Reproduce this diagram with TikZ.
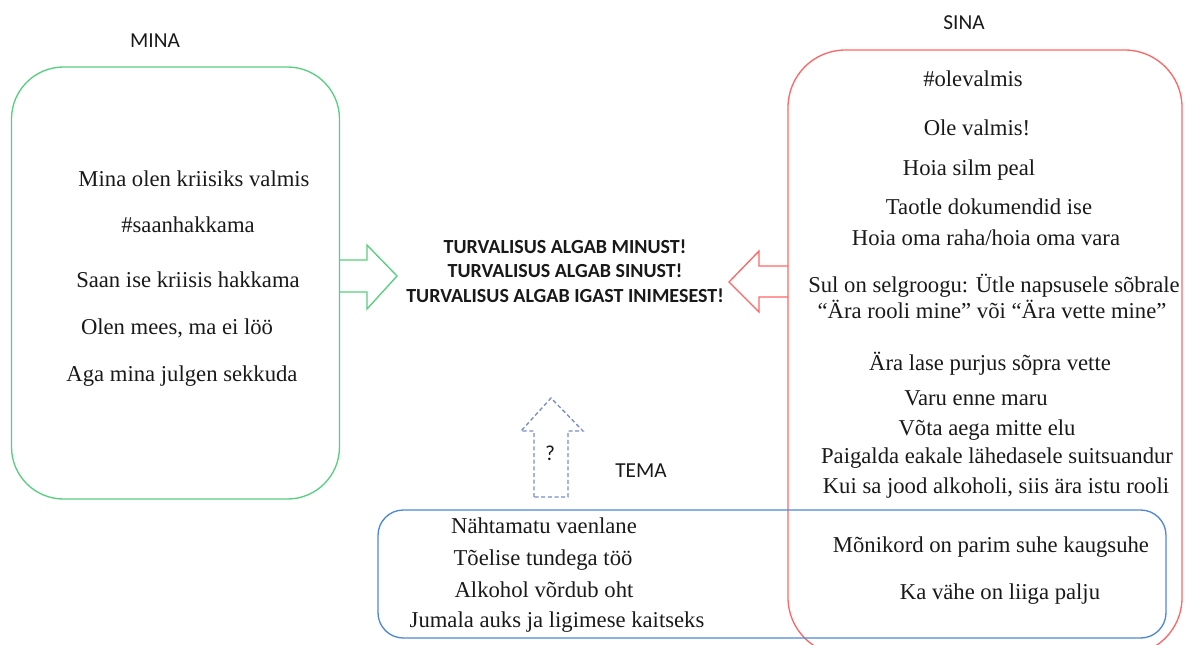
\documentclass[tikz,border=0pt]{standalone}
\usepackage{fontspec}
\setmainfont{Liberation Serif}
\newfontfamily\calib{Carlito}

\definecolor{minagreen}{RGB}{88,206,128}
\definecolor{sinared}{RGB}{255,102,102}
\definecolor{temablue}{RGB}{78,136,212}
\definecolor{askblue}{RGB}{120,140,200}

\tikzset{
  boxline/.style={line width=1pt},
  minabox/.style={boxline,draw=minagreen,rounded corners=39pt,minimum width=246pt,minimum height=324pt},
  sinabox/.style={boxline,draw=sinared,rounded corners=43pt,minimum width=295.5pt,minimum height=453.75pt},
  temabox/.style={boxline,draw=temablue,rounded corners=19pt,minimum width=591pt,minimum height=96pt},
  line/.style={font=\fontsize{17}{20}\selectfont,anchor=base,inner sep=0pt,text=black!90},
  head/.style={font=\calib\fontsize{16}{19}\selectfont,anchor=base,inner sep=0pt,text=black!90},
}

\begin{document}
\begin{tikzpicture}[x=0.75pt,y=-0.75pt]
\useasboundingbox (0,0) rectangle (1185,644);
\clip (0,0) rectangle (1185,644);

% boxes
\node[minabox] (mina) at (175.5,283) {};
\node[sinabox] (sina) at (985,352.5) {};
\node[temabox] (tema) at (772,574) {};

% headings
\node[head] (minahead) at (155,47) {MINA};
\node[head] (sinahead) at (964,29) {SINA};
\node[head] (temahead) at (641,477) {TEMA};

% block arrows
\draw[boxline,draw=minagreen] (340,260) -- (367,260) -- (367,245) -- (397,276) -- (367,309) -- (367,292) -- (340,292);
\draw[boxline,draw=sinared] (788,266) -- (759,266) -- (759,251) -- (729,282) -- (759,312) -- (759,297) -- (788,297);
\draw[boxline,draw=askblue,densely dashed] (534,497) -- (534,431) -- (521,431) -- (551,398) -- (583,431) -- (568,431) -- (568,497) -- cycle;
\node[head] (ask) at (550,460) {?};

% motto
\node[font=\calib\bfseries\fontsize{15}{18.4}\selectfont,align=center,inner sep=0pt,text=black!90] (motto) at (565,271)
  {TURVALISUS ALGAB MINUST!\\TURVALISUS ALGAB SINUST!\\TURVALISUS ALGAB IGAST INIMESEST!};

% mina
\node[line] (mina1) at (194,186) {Mina olen kriisiks valmis};
\node[line] (mina2) at (188,232) {\#saanhakkama};
\node[line] (mina3) at (188,287) {Saan ise kriisis hakkama};
\node[line] (mina4) at (177,334) {Olen mees, ma ei löö};
\node[line] (mina5) at (182,381) {Aga mina julgen sekkuda};

% sina
\node[line] (sina1) at (973,86) {\#olevalmis};
\node[line] (sina2) at (977,135) {Ole valmis!};
\node[line] (sina3) at (969,175) {Hoia silm peal};
\node[line] (sina4) at (989,214) {Taotle dokumendid ise};
\node[line] (sina5) at (986,245) {Hoia oma raha/hoia oma vara};
\node[line] (sina6) at (994,292) {Sul on selgroogu: Ütle napsusele sõbrale};
\node[line] (sina7) at (992,318) {“Ära rooli mine” või “Ära vette mine”};
\node[line] (sina8) at (990,370) {Ära lase purjus sõpra vette};
\node[line] (sina9) at (976,405) {Varu enne maru};
\node[line] (sina10) at (987,435) {Võta aega mitte elu};
\node[line] (sina11) at (997,463) {Paigalda eakale lähedasele suitsuandur};
\node[line] (sina12) at (996,493) {Kui sa jood alkoholi, siis ära istu rooli};

% tema
\node[line] (tema1) at (544,533) {Nähtamatu vaenlane};
\node[line] (tema2) at (543,565) {Tõelise tundega töö};
\node[line] (tema3) at (544,597) {Alkohol võrdub oht};
\node[line] (tema4) at (557,627) {Jumala auks ja ligimese kaitseks};
\node[line] (tema5) at (991,552) {Mõnikord on parim suhe kaugsuhe};
\node[line] (tema6) at (1000,599) {Ka vähe on liiga palju};
\end{tikzpicture}
\end{document}
